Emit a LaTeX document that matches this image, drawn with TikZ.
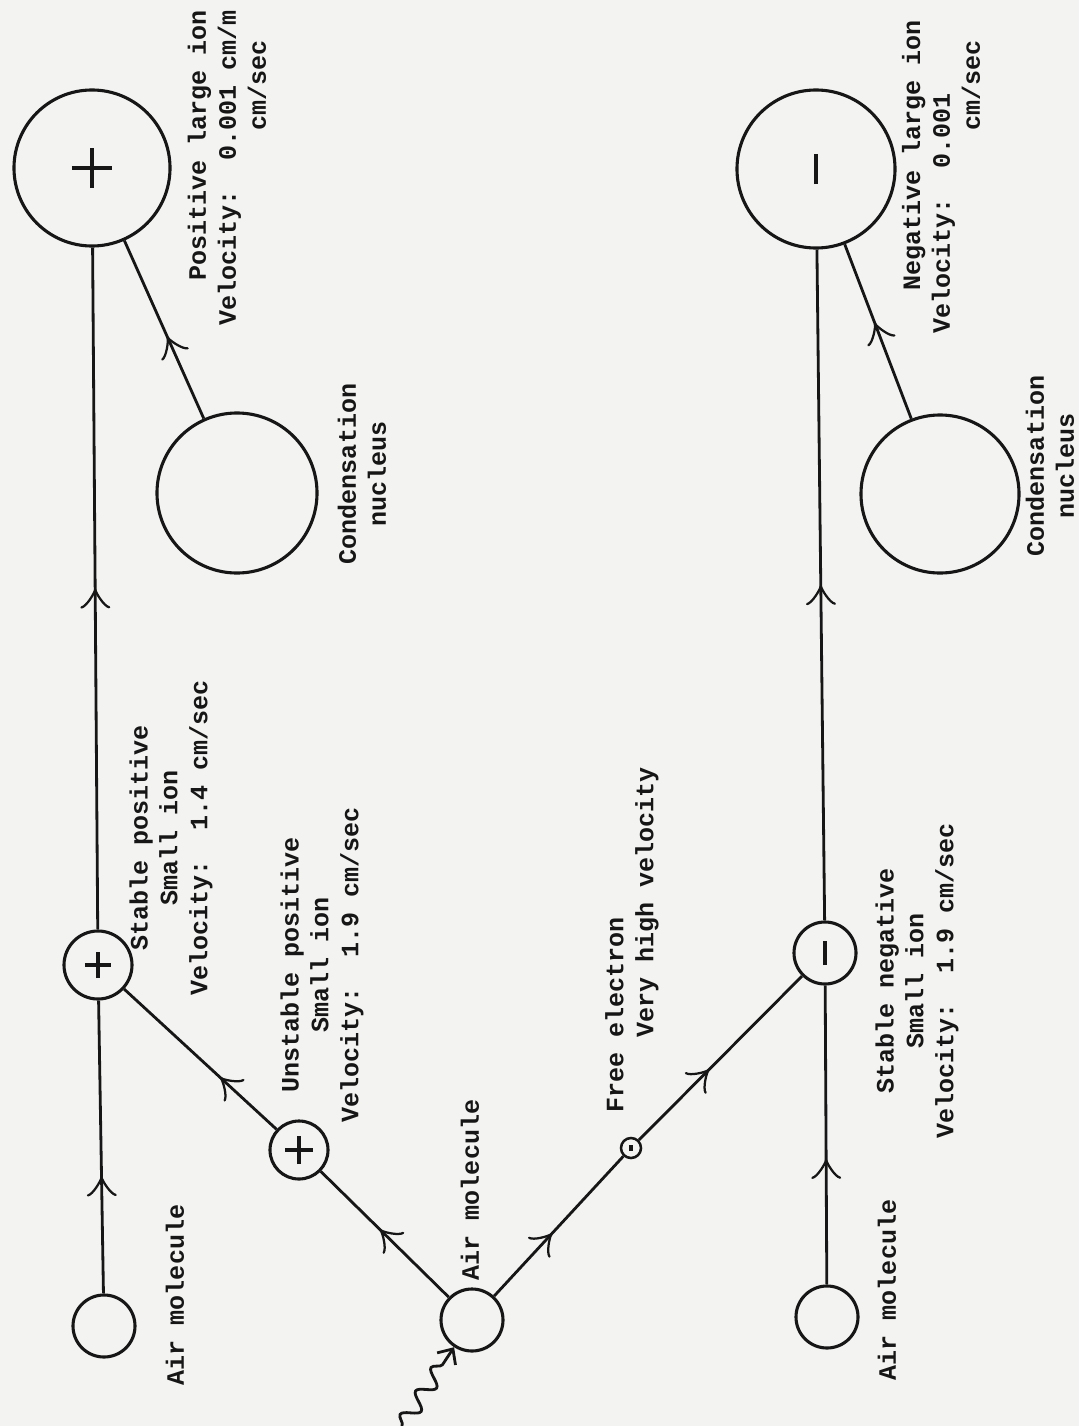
\documentclass[tikz,border=0pt]{standalone}
\usepackage{fontspec}
\setmonofont{Liberation Mono}
\usepackage{tikz}
\usetikzlibrary{arrows.meta,decorations.markings,decorations.pathmorphing}
\definecolor{scanpaper}{RGB}{243,243,241}
\definecolor{scanink}{RGB}{22,22,22}

\begin{document}
\begin{tikzpicture}[x=0.025cm,y=-0.025cm,scanink,
  ion/.style={circle,draw=scanink,line width=2.2pt,inner sep=0pt,minimum size=#1},
  possign/.style={path picture={\draw[scanink,line width=2.2pt]
    ([xshift=-#1]path picture bounding box.center) -- ([xshift=#1]path picture bounding box.center)
    ([yshift=-#1]path picture bounding box.center) -- ([yshift=#1]path picture bounding box.center);}},
  negsign/.style={path picture={\draw[scanink,line width=2.4pt]
    ([yshift=-#1]path picture bounding box.center) -- ([yshift=#1]path picture bounding box.center);}},
  lbl/.style={rotate=90,inner sep=0pt,align=center,font=\fontsize{17.8pt}{21.3pt}\selectfont\ttfamily\bfseries},
  flow/.style={line width=2pt,postaction={decorate},decoration={markings,
    mark=at position #1 with {\arrow[line width=2pt]{Classical TikZ Rightarrow[length=5mm,width=7.5mm]}}}},
  ray/.style={line width=2pt,decorate,decoration={snake,amplitude=0.2cm,segment length=0.7cm,post length=0.35cm},
    -{Straight Barb[length=3mm,width=5.5mm]}}]
  \useasboundingbox (0,0) rectangle (1079,1426);
  \fill[scanpaper] (0,0) rectangle (1079,1426);

  \node[ion=3.9cm,possign=0.5cm] (bigpos) at (92,168) {};
  \node[ion=4cm] (condA) at (237,493) {};
  \node[ion=1.7cm,possign=0.33cm] (stpos) at (98,965) {};
  \node[ion=1.45cm,possign=0.35cm] (unst) at (299,1150) {};
  \node[ion=1.55cm] (airL) at (104,1326) {};
  \node[ion=1.55cm] (airC) at (472,1320) {};
  \node[ion=0.5cm,line width=1.8pt,negsign=0.08cm] (elec) at (631,1148) {};
  \node[ion=1.55cm,negsign=0.3cm] (stneg) at (825,953) {};
  \node[ion=1.55cm] (airR) at (827,1317) {};
  \node[ion=3.95cm,negsign=0.38cm] (bigneg) at (816,169) {};
  \node[ion=3.95cm] (condB) at (940,494) {};
  \coordinate (photon) at (402,1426);

  \node[lbl,align=left] (bigposlbl) at (227,168) {\hspace*{1.8em}Positive large ion\\Velocity:~~0.001 cm/m\\\hspace*{7.8em}cm/sec};
  \node[lbl] (condAlbl) at (362,474) {Condensation\\nucleus};
  \node[lbl] (stposlbl) at (171,838) {Stable positive\\Small ion\\Velocity:~~1.4 cm/sec};
  \node[lbl] (unstlbl) at (322,965) {Unstable positive\\Small ion\\Velocity:~~1.9 cm/sec};
  \node[lbl] (airLlbl) at (175,1295) {Air molecule};
  \node[lbl] (airClbl) at (470,1190) {Air molecule};
  \node[lbl,align=left] (eleclbl) at (632,940) {Free electron\\\hspace*{3em}Very high velocity};
  \node[lbl] (stneglbl) at (917,981) {Stable negative\\Small ion\\Velocity:~~1.9 cm/sec};
  \node[lbl] (airRlbl) at (887,1290) {Air molecule};
  \node[lbl,align=left] (bigneglbl) at (941,177) {\hspace*{1.7em}Negative large ion\\Velocity:~~0.001\\\hspace*{8.1em}cm/sec};
  \node[lbl] (condBlbl) at (1050,466) {Condensation\\nucleus};

  \draw[flow=0.40] (airL) -- (stpos);
  \draw[flow=0.50] (stpos) -- (bigpos);
  \draw[flow=0.46] (condA) -- (bigpos);
  \draw[flow=0.54] (airC) -- (unst);
  \draw[flow=0.37] (unst) -- (stpos);
  \draw[flow=0.45] (airC) -- (elec);
  \draw[flow=0.43] (elec) -- (stneg);
  \draw[flow=0.42] (airR) -- (stneg);
  \draw[flow=0.50] (stneg) -- (bigneg);
  \draw[flow=0.55] (condB) -- (bigneg);
  \draw[ray] (photon) -- (airC);
\end{tikzpicture}
\end{document}
